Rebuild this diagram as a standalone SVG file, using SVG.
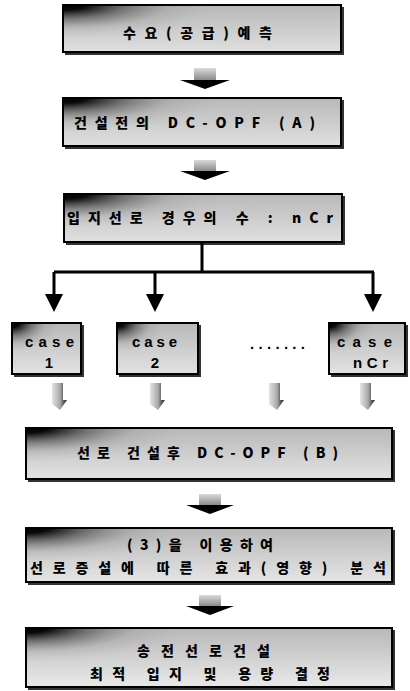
<svg xmlns="http://www.w3.org/2000/svg" width="410" height="691" viewBox="0 0 410 691">
<defs>
<linearGradient id="base" gradientUnits="userSpaceOnUse" x1="0" y1="0" x2="0" y2="55">
<stop offset="0" stop-color="#b8b8b8"/>
<stop offset="0.5" stop-color="#cfcfcf"/>
<stop offset="1" stop-color="#e6e6e6"/>
</linearGradient>
<radialGradient id="darkW" gradientUnits="userSpaceOnUse" cx="0" cy="0" r="34" gradientTransform="scale(4.5,1)">
<stop offset="0" stop-color="#000" stop-opacity="1"/>
<stop offset="0.15" stop-color="#000" stop-opacity="0.95"/>
<stop offset="0.4" stop-color="#333" stop-opacity="0.55"/>
<stop offset="0.7" stop-color="#666" stop-opacity="0.15"/>
<stop offset="1" stop-color="#888" stop-opacity="0"/>
</radialGradient>
<radialGradient id="darkS" gradientUnits="userSpaceOnUse" cx="0" cy="0" r="30" gradientTransform="scale(1.6,1)">
<stop offset="0" stop-color="#000" stop-opacity="1"/>
<stop offset="0.15" stop-color="#000" stop-opacity="0.95"/>
<stop offset="0.4" stop-color="#333" stop-opacity="0.55"/>
<stop offset="0.7" stop-color="#666" stop-opacity="0.15"/>
<stop offset="1" stop-color="#888" stop-opacity="0"/>
</radialGradient>
<linearGradient id="stem" x1="0" y1="0" x2="0" y2="1">
<stop offset="0" stop-color="#dadada"/>
<stop offset="1" stop-color="#8a8a8a"/>
</linearGradient>
<linearGradient id="gstem" x1="0" y1="0" x2="1" y2="0">
<stop offset="0" stop-color="#e4e4e4"/>
<stop offset="0.55" stop-color="#a8a8a8"/>
<stop offset="0.8" stop-color="#555"/>
<stop offset="1" stop-color="#222"/>
</linearGradient>
</defs>
<style>
.bg{fill:url(#base)}
.dw{fill:url(#darkW)}
.ds{fill:url(#darkS)}
.bd{fill:none;stroke:#000;stroke-width:2}
.sh{fill:none;stroke:#333;stroke-width:3}
.t{font-family:"Noto Sans CJK KR","Noto Sans",sans-serif;font-weight:900;font-size:14px;fill:#000}
.c{font-family:"Liberation Sans","Noto Sans",sans-serif;font-weight:bold;font-size:15px;fill:#000}
.ln{stroke:#000;stroke-width:3;fill:none}
.hd{fill:#000}
.st{fill:url(#stem)}
.gs{fill:url(#gstem)}
</style>

<g id="n1" transform="translate(63,5)">
<rect class="bg" width="278" height="47"/>
<rect class="dw" width="278" height="47"/>
<path class="sh" d="M279.5 2 V48.5 H2"/>
<rect class="bd" width="278" height="47"/>
<text class="t" x="60" y="33" textLength="149" lengthAdjust="spacing">수요(공급)예측</text>
</g>

<g id="n2" transform="translate(63,98)">
<rect class="bg" width="278" height="48"/>
<rect class="dw" width="278" height="48"/>
<path class="sh" d="M279.5 2 V49.5 H2"/>
<rect class="bd" width="278" height="48"/>
<text class="t" x="11" y="30" textLength="241" lengthAdjust="spacing">건설전의 DC-OPF (A)</text>
</g>

<g id="n3" transform="translate(64,194)">
<rect class="bg" width="278" height="48"/>
<rect class="dw" width="278" height="48"/>
<path class="sh" d="M279.5 2 V49.5 H2"/>
<rect class="bd" width="278" height="48"/>
<text class="t" x="3" y="29" textLength="266" lengthAdjust="spacing">입지선로 경우의 수 : nCr</text>
</g>

<g id="case1" transform="translate(12,323)">
<rect class="bg" width="69" height="51"/>
<rect class="ds" width="69" height="51"/>
<path class="sh" d="M70.5 2 V52.5 H2"/>
<rect class="bd" width="69" height="51"/>
<text class="c" x="13" y="24" textLength="49" lengthAdjust="spacing">case</text>
<text class="c" x="37" y="45" text-anchor="middle">1</text>
</g>

<g id="case2" transform="translate(117,323)">
<rect class="bg" width="81" height="51"/>
<rect class="ds" width="81" height="51"/>
<path class="sh" d="M82.5 2 V52.5 H2"/>
<rect class="bd" width="81" height="51"/>
<text class="c" x="15" y="24" textLength="45" lengthAdjust="spacing">case</text>
<text class="c" x="38" y="45" text-anchor="middle">2</text>
</g>

<g id="dots">
<text class="c" x="250" y="349" textLength="55" lengthAdjust="spacing">.......</text>
</g>

<g id="caseN" transform="translate(329,323)">
<rect class="bg" width="76" height="51"/>
<rect class="ds" width="76" height="51"/>
<path class="sh" d="M77.5 2 V52.5 H2"/>
<rect class="bd" width="76" height="51"/>
<text class="c" x="8" y="24" textLength="55" lengthAdjust="spacing">case</text>
<text class="c" x="24" y="45" textLength="35" lengthAdjust="spacing">nCr</text>
</g>

<g id="n4" transform="translate(26,428)">
<rect class="bg" width="366" height="51"/>
<rect class="dw" width="366" height="51"/>
<path class="sh" d="M367.5 2 V52.5 H2"/>
<rect class="bd" width="366" height="51"/>
<text class="t" x="51" y="30" textLength="261" lengthAdjust="spacing">선로 건설후 DC-OPF (B)</text>
</g>

<g id="n5" transform="translate(26,528)">
<rect class="bg" width="366" height="54"/>
<rect class="dw" width="366" height="54"/>
<path class="sh" d="M367.5 2 V55.5 H2"/>
<rect class="bd" width="366" height="54"/>
<text class="t" x="101" y="22" textLength="146" lengthAdjust="spacing">(3)을 이용하여</text>
<text class="t" x="4" y="45" textLength="356" lengthAdjust="spacing">선로증설에 따른 효과(영향) 분석</text>
</g>

<g id="n6" transform="translate(26,628)">
<rect class="bg" width="366" height="59"/>
<rect class="dw" width="366" height="59"/>
<path class="sh" d="M367.5 2 V60.5 H2"/>
<rect class="bd" width="366" height="59"/>
<text class="t" x="111" y="28" textLength="133" lengthAdjust="spacing">송전선로건설</text>
<text class="t" x="64" y="51" textLength="240" lengthAdjust="spacing">최적 입지 및 용량 결정</text>
</g>

<g id="connectors">
<rect class="st" x="194" y="68" width="22" height="12"/>
<polygon class="hd" points="180,80 230,80 205,89"/>
<rect class="st" x="194" y="160" width="22" height="11"/>
<polygon class="hd" points="180,171 230,171 205,180"/>
<path class="ln" d="M202 243 V272 M54 272 H374 M54 272 V295 M155 272 V295 M373 272 V295"/>
<polygon class="hd" points="45,294 63,294 54,312"/>
<polygon class="hd" points="146,294 164,294 155,312"/>
<polygon class="hd" points="364,294 382,294 373,312"/>
<polygon class="gs" points="52,383 63,383 63,400 67,400 60,410 52,404"/>
<polygon class="gs" points="150,383 161,383 161,400 165,400 158,410 150,404"/>
<polygon class="gs" points="269,383 280,383 280,400 284,400 277,410 269,404"/>
<polygon class="gs" points="360,383 371,383 371,400 375,400 368,410 360,404"/>
<rect class="st" x="199" y="494" width="22" height="11"/>
<polygon class="hd" points="186,505 234,505 210,514"/>
<rect class="st" x="199" y="595" width="22" height="11"/>
<polygon class="hd" points="186,606 234,606 210,615"/>
</g>
</svg>
